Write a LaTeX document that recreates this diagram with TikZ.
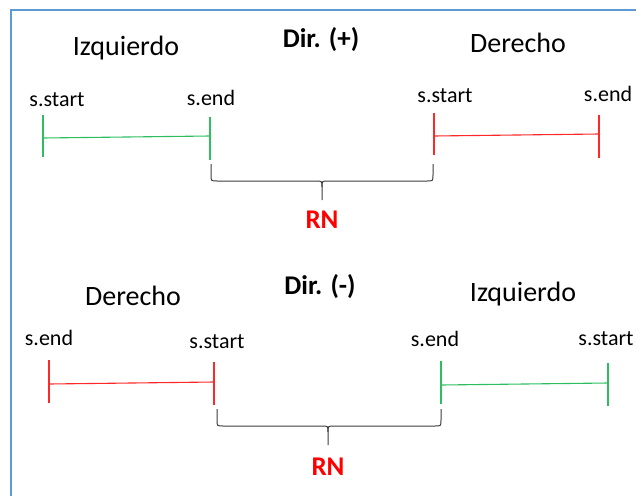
\documentclass[tikz,border=0pt]{standalone}
\usepackage{fontspec}
\setmainfont{Carlito}
\definecolor{segGreen}{RGB}{46,190,96}
\definecolor{segRed}{RGB}{255,40,40}
\definecolor{frameBlue}{RGB}{91,155,213}
\definecolor{braceGray}{RGB}{60,60,60}
\definecolor{rnRed}{RGB}{255,0,0}
\tikzset{
  lbl/.style={inner sep=0pt, font=\fontsize{22}{25}\selectfont},
  side/.style={inner sep=0pt, font=\fontsize{28}{31}\selectfont},
  dirlbl/.style={inner sep=0pt, font=\fontsize{27}{30}\selectfont\bfseries},
  rnlbl/.style={inner sep=0pt, text=rnRed, font=\fontsize{27}{30}\selectfont\bfseries},
  gseg/.style={draw=segGreen, line width=1.1pt},
  rseg/.style={draw=segRed, line width=1.1pt},
  bracepath/.style={draw=braceGray, line width=1pt},
}
\begin{document}
\begin{tikzpicture}[x={(1pt,0)}, y={(0,-1pt)}]
\useasboundingbox (0,0) rectangle (636,495);
\draw[frameBlue, line width=2pt] (11,700) -- (11,10) -- (700,10);

% ---------- Top: Dir. (+)
\node[side] (izq1) at (126,48) {Izquierdo};
\node[dirlbl] (dir1) at (321,40) {Dir. (+)};
\node[side] (der1) at (518,43) {Derecho};

\node[lbl] (s1a) at (57,100) {s.start};
\node[lbl] (s1b) at (211,98) {s.end};
\node[lbl] (s1c) at (445,96) {s.start};
\node[lbl] (s1d) at (608,94) {s.end};

\coordinate (g1t) at (43,115); \coordinate (g1b) at (43,157);
\coordinate (g2t) at (210,117); \coordinate (g2b) at (210,160);
\coordinate (g1m) at (43,138); \coordinate (g2m) at (210,136);
\draw[gseg] (g1t) -- (g1b);
\draw[gseg] (g2t) -- (g2b);
\draw[gseg] (g1m) -- (g2m);

\coordinate (r1t) at (434,113); \coordinate (r1b) at (434,155);
\coordinate (r2t) at (599,115); \coordinate (r2b) at (599,158);
\coordinate (r1m) at (434,136); \coordinate (r2m) at (599,134);
\draw[rseg] (r1t) -- (r1b);
\draw[rseg] (r2t) -- (r2b);
\draw[rseg] (r1m) -- (r2m);

\coordinate (b1l) at (211,164);
\coordinate (b1r) at (433,164);
\coordinate (b1tip) at (322,200);
\draw[bracepath] (b1l) -- (211,175) .. controls (211,181) .. (217,181)
  -- (316,181) .. controls (322,181) .. (322,187) -- (b1tip);
\draw[bracepath] (b1r) -- (433,175) .. controls (433,181) .. (427,181)
  -- (328,181) .. controls (322,181) .. (322,187);
\node[rnlbl] (rn1) at (322,220) {RN};

% ---------- Bottom: Dir. (-)
\node[side] (der2) at (133,296) {Derecho};
\node[dirlbl] (dir2) at (320,287) {Dir. (-)};
\node[side] (izq2) at (523,294) {Izquierdo};

\node[lbl] (s2a) at (49,338) {s.end};
\node[lbl] (s2b) at (217,342) {s.start};
\node[lbl] (s2c) at (435,339) {s.end};
\node[lbl] (s2d) at (606,339) {s.start};

\coordinate (q1t) at (49,360); \coordinate (q1b) at (49,403);
\coordinate (q2t) at (214,362); \coordinate (q2b) at (214,405);
\coordinate (q1m) at (49,384); \coordinate (q2m) at (214,382);
\draw[rseg] (q1t) -- (q1b);
\draw[rseg] (q2t) -- (q2b);
\draw[rseg] (q1m) -- (q2m);

\coordinate (h1t) at (441,361); \coordinate (h1b) at (441,404);
\coordinate (h2t) at (608,363); \coordinate (h2b) at (608,406);
\coordinate (h1m) at (441,385); \coordinate (h2m) at (608,383);
\draw[gseg] (h1t) -- (h1b);
\draw[gseg] (h2t) -- (h2b);
\draw[gseg] (h1m) -- (h2m);

\coordinate (b2l) at (217,409);
\coordinate (b2r) at (441,409);
\coordinate (b2tip) at (328,445);
\draw[bracepath] (b2l) -- (217,420) .. controls (217,426) .. (223,426)
  -- (322,426) .. controls (328,426) .. (328,432) -- (b2tip);
\draw[bracepath] (b2r) -- (441,420) .. controls (441,426) .. (435,426)
  -- (334,426) .. controls (328,426) .. (328,432);
\node[rnlbl] (rn2) at (328,467) {RN};
\end{tikzpicture}
\end{document}
